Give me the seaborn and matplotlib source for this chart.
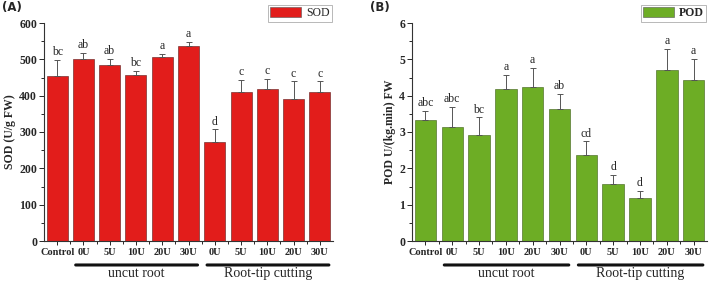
import matplotlib
matplotlib.use("Agg")
import matplotlib.pyplot as plt
from matplotlib.ticker import MultipleLocator
from matplotlib.patches import Patch
import seaborn as sns
import pandas as pd
import numpy as np

sns.set_style("ticks")
plt.rcParams['font.family'] = ['Liberation Serif', 'DejaVu Serif']

conditions = ["Control", "uncut 0U", "uncut 5U", "uncut 10U", "uncut 20U", "uncut 30U",
              "cut 0U", "cut 5U", "cut 10U", "cut 20U", "cut 30U"]
tick_labels = ["Control", "0U", "5U", "10U", "20U", "30U", "0U", "5U", "10U", "20U", "30U"]

sod_mean = [453, 501, 485, 457, 507, 538, 273, 409, 417, 392, 409]
sod_err = [46, 17, 17, 12, 9, 10, 35, 35, 30, 47, 30]
sod_letters = ["bc", "ab", "ab", "bc", "a", "a", "d", "c", "c", "c", "c"]

pod_mean = [3.33, 3.14, 2.93, 4.17, 4.23, 3.64, 2.37, 1.56, 1.18, 4.70, 4.44]
pod_err = [0.25, 0.54, 0.47, 0.40, 0.53, 0.40, 0.37, 0.25, 0.19, 0.59, 0.57]
pod_letters = ["abc", "abc", "bc", "a", "a", "ab", "cd", "d", "d", "a", "a"]

group_names = ["uncut root", "Root-tip cutting"]

RED = "#e21d1b"
GREEN = "#6dad25"

fig = plt.figure(figsize=(7.09, 2.83), dpi=100)
H = 283.0
W = 709.0
axA = fig.add_axes([44 / W, 1 - 241 / H, (333 - 44) / W, (241 - 23) / H])
axB = fig.add_axes([412 / W, 1 - 241 / H, (707 - 412) / W, (241 - 23) / H])


def panel(ax, mean, err, letters, color, ylabel, ylim, major, minor, legend_label, fmt, letter_off):
    df = pd.DataFrame({"cond": conditions, "val": mean})
    sns.barplot(data=df, x="cond", y="val", order=conditions, color=color,
                saturation=1, width=0.8, edgecolor="#5a1a1a" if color == RED else "#3d5e17",
                linewidth=0.4, ax=ax, errorbar=None)
    x = np.arange(len(conditions))
    ax.errorbar(x, mean, yerr=[np.zeros(len(err)), err], fmt="none", ecolor="#555555",
                elinewidth=0.7, capsize=2.5, capthick=0.7)
    for xi, m, e, t in zip(x, mean, err, letters):
        ax.text(xi, m + e + letter_off, t, ha="center", va="bottom", fontsize=8.5)
    ax.set_xlim(-0.5, len(conditions) - 0.5)
    ax.set_ylim(*ylim)
    ax.yaxis.set_major_locator(MultipleLocator(major))
    ax.yaxis.set_minor_locator(MultipleLocator(minor))
    ax.set_xticks(x)
    ax.set_xticklabels(tick_labels, fontsize=7.5, fontweight="bold")
    ax.set_xticks(np.arange(len(conditions) - 1) + 0.5, minor=True)
    ax.tick_params(axis="x", which="major", length=3, width=0.7, pad=2)
    ax.tick_params(axis="x", which="minor", length=2, width=0.7)
    ax.tick_params(axis="y", which="major", length=3.5, width=0.7, labelsize=8.5, pad=1.5)
    ax.tick_params(axis="y", which="minor", length=2, width=0.7)
    for lab in ax.get_yticklabels():
        lab.set_fontweight("bold")
    ax.yaxis.set_major_formatter(matplotlib.ticker.FormatStrFormatter(fmt))
    ax.set_xlabel("")
    ax.set_ylabel(ylabel, fontsize=8.5, fontweight="bold", labelpad=2)
    sns.despine(ax=ax)
    for s in ["left", "bottom"]:
        ax.spines[s].set_linewidth(0.8)
        ax.spines[s].set_color("#333333")
    # group lines and labels
    for (a, b), name in zip([(0.6, 5.45), (5.6, 10.45)], group_names):
        ax.annotate("", xy=(a, -0.11), xytext=(b, -0.11), xycoords=("data", "axes fraction"),
                    textcoords=("data", "axes fraction"),
                    arrowprops=dict(arrowstyle="-", lw=2.2, color="#111111"))
        ax.text((a + b) / 2, -0.117, name, transform=ax.get_xaxis_transform(),
                ha="center", va="top", fontsize=10)
    leg = ax.legend(handles=[Patch(facecolor=color, edgecolor="#555555", linewidth=0.4, label=legend_label)],
                    loc="lower right", bbox_to_anchor=(1.0, 1.0), frameon=True, fontsize=8.5,
                    handlelength=2.6, handleheight=0.9, borderpad=0.2, handletextpad=0.4,
                    borderaxespad=0.1, fancybox=False)
    leg.get_frame().set_edgecolor("#999999")
    leg.get_frame().set_linewidth(0.6)
    return leg


panel(axA, sod_mean, sod_err, sod_letters, RED, "SOD (U/g FW)", (0, 600), 100, 50, "SOD", "%d", 4)
legB = panel(axB, pod_mean, pod_err, pod_letters, GREEN, "POD U/(kg.min) FW", (0, 6), 1, 0.5, "POD", "%d", 0.05)
for t in legB.get_texts():
    t.set_fontweight("bold")

fig.text(2 / W, 1 - 7 / H, "(A)", fontsize=8.5, fontweight="bold", family="DejaVu Sans", va="center")
fig.text(370 / W, 1 - 7 / H, "(B)", fontsize=8.5, fontweight="bold", family="DejaVu Sans", va="center")

fig.savefig("out.png", dpi=100)
